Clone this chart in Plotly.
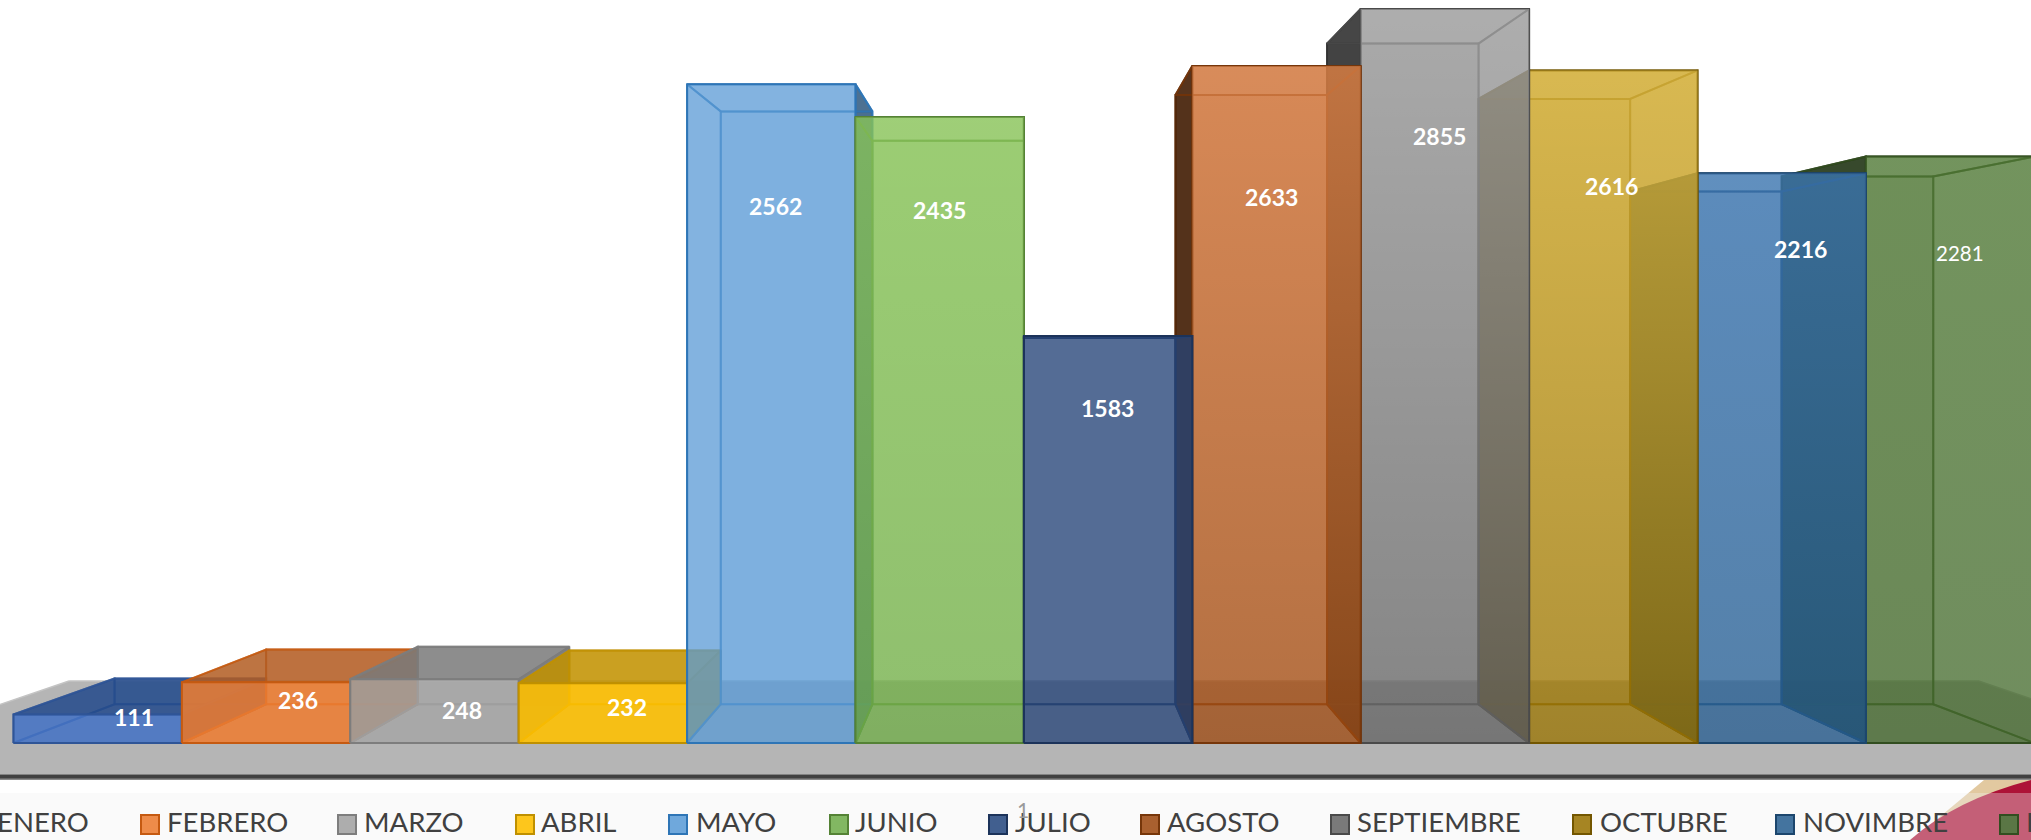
import plotly.graph_objects as go

# ---------- data ----------
months = ["ENERO", "FEBRERO", "MARZO", "ABRIL", "MAYO", "JUNIO", "JULIO",
          "AGOSTO", "SEPTIEMBRE", "OCTUBRE", "NOVIMBRE", "DICIEMBRE"]
values = [111, 236, 248, 232, 2562, 2435, 1583, 2633, 2855, 2616, 2216, 2281]

# ---------- colours ----------
base_rgb = [(68, 114, 196), (237, 125, 49), (165, 165, 165), (255, 192, 0),
            (91, 155, 213), (112, 173, 71), (38, 68, 120), (158, 72, 14),
            (99, 99, 99), (153, 115, 0), (37, 94, 145), (67, 104, 43)]
edge_rgb = [(47, 85, 151), (197, 90, 17), (125, 125, 125), (191, 144, 0),
            (46, 117, 182), (84, 130, 53), (28, 51, 90), (118, 54, 10),
            (74, 74, 74), (115, 86, 0), (28, 70, 109), (50, 78, 32)]
top_rgb = [(35, 74, 139), (178, 92, 34), (123, 123, 123), (193, 144, 0)]
front_alpha = [0.86, 0.86, 0.8, 0.88, 0.75, 0.75, 0.75, 0.75, 0.75, 0.75, 0.75, 0.75]
wall_factor = [0.62, 0.72, 0.72, 0.75, 0.62, 0.7, 0.6, 0.42, 0.5, 0.6, 0.6, 0.5]
# colour towards which the upper part of a front face fades (r, g, b, alpha)
glow = [None, None, None, None, None, (200, 255, 135, 0.22), None,
        (255, 165, 110, 0.48), (255, 255, 255, 0.31), (255, 220, 100, 0.5),
        (120, 180, 255, 0.22), (130, 185, 90, 0.15)]
swatch_fill = ["#5b82c8", "#ee8c4a", "#adadad", "#fdc61c", "#6fa8dc", "#82b762",
               "#415f8f", "#a9602f", "#7a7a7a", "#a68523", "#44749f", "#5a7645"]

# ---------- layout constants (page pixels) ----------
W, H = 2031, 840
BAR_LEFT, BAR_STEP = 13.5, 168.4      # px of category edge 0, px per category
BASE_Y, PX_PER_UNIT = 743.0, 0.2571   # px of value 0, px per value unit
VAN_X, VAN_V = 6.0, 1509.0            # vanishing point in axis units
BACK_S = 0.9                          # perspective scale of the bars' back faces
FLOOR_BACK_S, FLOOR_FRONT_S, FLOOR_HALF = 0.84, 1.082, 6.75

label_px = [(134, 717), (298, 700), (462, 710), (627, 707), (775, 206), (939, 210),
            (1107, 408), (1271, 197), (1439, 136), (1611, 186), (1800, 249), (1960, 253)]
swatch_px = [-31, 141, 338, 516, 669, 830, 989, 1141, 1331, 1573, 1776, 2000]
text_px = [-5, 165, 362, 539, 694, 853, 1013, 1165, 1355, 1598, 1801, 2024]

x_range = [(0 - BAR_LEFT) / BAR_STEP, (W - BAR_LEFT) / BAR_STEP]
y_range = [(BASE_Y - H) / PX_PER_UNIT, BASE_Y / PX_PER_UNIT]


def project(x, v, s):
    return VAN_X + (x - VAN_X) * s, VAN_V + (v - VAN_V) * s


def rgba(c, a=1.0, f=1.0):
    return f"rgba({int(c[0]*f)},{int(c[1]*f)},{int(c[2]*f)},{a})"


fig = go.Figure()


def face(pts, fill, line, width=2, name="", gradient=None):
    xs, ys = zip(*[project(*p) for p in pts])
    xs, ys = list(xs) + [xs[0]], list(ys) + [ys[0]]
    kw = dict(fillgradient=gradient) if gradient else dict(fillcolor=fill)
    fig.add_trace(go.Scatter(
        x=xs, y=ys, mode="lines", fill="toself", name=name, showlegend=False,
        hoverinfo="skip", line=dict(color=line, width=width), **kw))


# floor
fl, fr = VAN_X - FLOOR_HALF, VAN_X + FLOOR_HALF
face([(fl, 0, FLOOR_BACK_S), (fr, 0, FLOOR_BACK_S), (fr, 0, FLOOR_FRONT_S), (fl, 0, FLOOR_FRONT_S)],
     "#b5b5b5", "#c4c4c4", 1.5, "suelo")


def draw_bar(i):
    x0, x1, v = i, i + 1, values[i]
    c, e, s = base_rgb[i], edge_rgb[i], BACK_S
    inner = rgba(e, 0.7)
    n = months[i]
    # back
    face([(x0, 0, s), (x1, 0, s), (x1, v, s), (x0, v, s)], rgba(c, 0.15), inner, 2, n)
    # walls: the one turned away from the centre is dark
    dark = rgba(c, 0.9, wall_factor[i])
    pale = rgba(c, 0.04)
    left_outer = i >= 6
    face([(x0, 0, 1), (x0, v, 1), (x0, v, s), (x0, 0, s)], dark if left_outer else pale,
         rgba(e, 0.9, 0.7) if left_outer else inner, 2, n)
    face([(x1, 0, 1), (x1, v, 1), (x1, v, s), (x1, 0, s)], pale if left_outer else dark,
         inner if left_outer else rgba(e, 0.9), 2, n)
    # bottom
    face([(x0, 0, 1), (x1, 0, 1), (x1, 0, s), (x0, 0, s)], rgba(c, 0.04), inner, 2, n)
    # top
    top_fill = rgba(top_rgb[i], 0.85) if i < len(top_rgb) else rgba(c, 0.04)
    face([(x0, v, 1), (x1, v, 1), (x1, v, s), (x0, v, s)], top_fill, rgba(e, 0.85), 2, n)
    # front
    face([(x0, 0, 1), (x1, 0, 1), (x1, v, 1), (x0, v, 1)], rgba(c, front_alpha[i]), rgba(e, 1), 2, n)
    if glow[i]:
        g = glow[i]
        grad = dict(type="vertical",
                    colorscale=[[0, rgba(g, 0.0)], [1, rgba(g, g[3])]])
        face([(x0, 0, 1), (x1, 0, 1), (x1, v, 1), (x0, v, 1)], None, rgba(e, 0.0), 0.5, n, grad)


# back-to-front order: outer bars first, working towards the vanishing point
for i in [0, 1, 2, 3, 4, 5, 11, 10, 9, 8, 7, 6]:
    draw_bar(i)


def px(x):
    return x / W


def py(y):
    return 1 - y / H


shapes = []


def poly(path, fill):
    shapes.append(dict(type="path", xref="paper", yref="paper", path=path, fillcolor=fill,
                       line=dict(width=0), layer="above"))


def P(x, y):
    return f"{px(x):.5f},{py(y):.5f}"


# floor front edge
shapes.append(dict(type="rect", xref="paper", yref="paper", x0=0, x1=1, y0=py(777), y1=py(780),
                   fillcolor="#8a8a8a", line=dict(width=0), layer="above"))
shapes.append(dict(type="rect", xref="paper", yref="paper", x0=0, x1=1, y0=py(774.5), y1=py(778.5),
                   fillcolor="#404040", line=dict(width=0), layer="above"))
# slide decoration in the corner
poly(f"M{P(1984, 780)} L{P(1912, 840)} L{P(2031, 840)} L{P(2031, 780)} Z", "#e2c9a0")
poly(f"M{P(1910, 840)} Q{P(1955, 800)} {P(2031, 780)} L{P(2031, 840)} Z", "#ad1237")
# translucent band behind the legend
shapes.append(dict(type="rect", xref="paper", yref="paper", x0=0, x1=1, y0=0, y1=py(793),
                   fillcolor="rgba(240,240,240,0.35)", line=dict(width=0), layer="above"))

annotations = []
for i, m in enumerate(months):
    sx = swatch_px[i]
    shapes.append(dict(type="rect", xref="paper", yref="paper",
                       x0=px(sx), x1=px(sx + 18), y0=py(834), y1=py(815),
                       fillcolor=swatch_fill[i], line=dict(color=rgba(edge_rgb[i]), width=2), layer="above"))
    annotations.append(dict(text=m, xref="paper", yref="paper", x=px(text_px[i]), y=py(821),
                            xanchor="left", yanchor="middle", showarrow=False,
                            font=dict(family="Lato", size=27.5, color="#404040")))
    lx, ly = label_px[i]
    last = i == len(months) - 1
    annotations.append(dict(text=str(values[i]) if last else f"<b>{values[i]}</b>",
                            xref="paper", yref="paper", x=px(lx), y=py(ly),
                            xanchor="center", yanchor="middle", showarrow=False,
                            font=dict(family="Lato", size=20.5 if last else 23, color="#ffffff")))
annotations.append(dict(text="1", xref="paper", yref="paper", x=px(1023), y=py(809),
                        xanchor="center", yanchor="middle", showarrow=False,
                        font=dict(family="Lato", size=21, color="#9a9a9a")))

fig.update_layout(
    width=W, height=H, margin=dict(l=0, r=0, t=0, b=0, autoexpand=False),
    paper_bgcolor="#ffffff", plot_bgcolor="#ffffff", showlegend=False,
    xaxis=dict(visible=False, range=x_range, fixedrange=True),
    yaxis=dict(visible=False, range=y_range, fixedrange=True),
    shapes=shapes, annotations=annotations,
)

fig.write_html("out.html", config=dict(displayModeBar=False),
               post_script="document.body.style.margin='0';document.body.style.overflow='hidden';")
